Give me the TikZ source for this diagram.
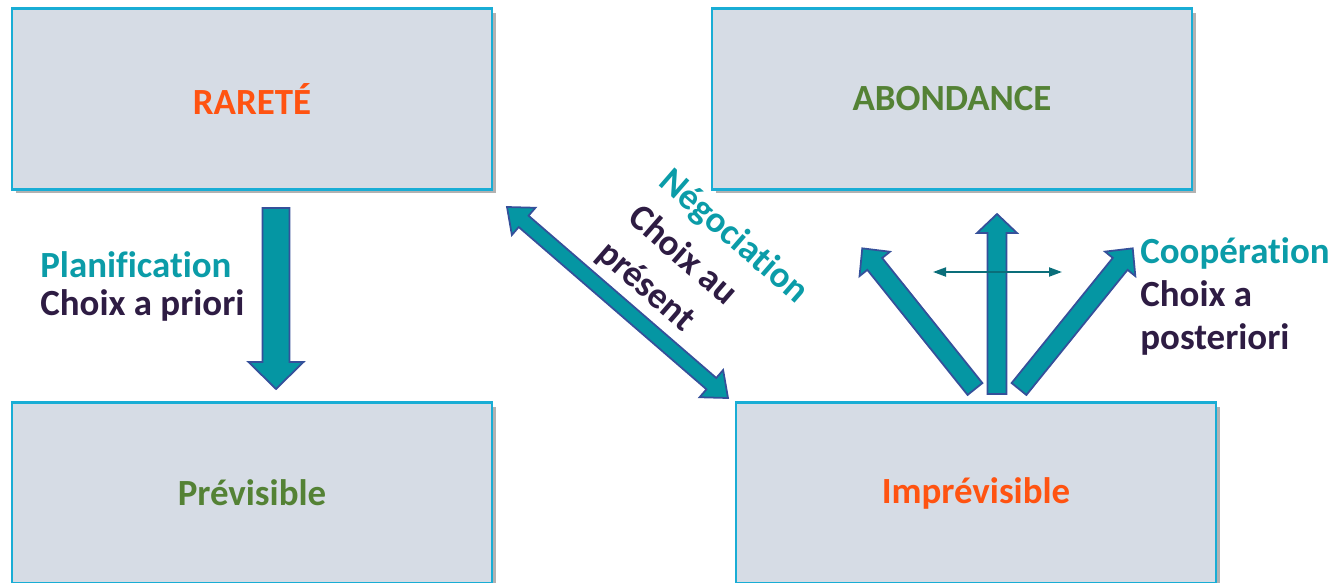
\documentclass[tikz,border=0pt]{standalone}
\usepackage{fontspec}
\setmainfont{Carlito}[Ligatures=NoCommon]
\usepackage{tikz}
\usetikzlibrary{calc,shadows,arrows.meta,positioning}

\definecolor{grisbleu}{HTML}{D6DCE5}
\definecolor{bordbleu}{HTML}{19ADD5}
\definecolor{rouille}{HTML}{FF5311}
\definecolor{vert}{HTML}{548235}
\definecolor{sarcelle}{HTML}{0B9CA8}
\definecolor{prune}{HTML}{2E1C43}
\definecolor{flechefond}{HTML}{0596A3}
\definecolor{flechebord}{HTML}{35509A}
\definecolor{fineteal}{HTML}{0A6E7A}

\tikzset{
  boite/.style={draw=bordbleu, line width=1.6pt, fill=grisbleu,
    minimum width=9.6cm, minimum height=3.62cm, inner sep=0pt,
    font=\fontsize{21}{25}\selectfont\bfseries,
    drop shadow={shadow xshift=0.08cm, shadow yshift=-0.08cm, fill=black, opacity=0.3}},
  fleche/.style={fill=flechefond, draw=flechebord, line width=1pt, line join=miter},
  etiq/.style={anchor=base west, inner sep=0pt, font=\fontsize{21}{25}\selectfont\bfseries},
}

% block arrow: from, to, half shaft, half head, head length
\newcommand{\flechebloc}[5]{%
  \draw[fleche] let \p1=($(#2)-(#1)$), \n1={atan2(\y1,\x1)}, \n2={veclen(\x1,\y1)} in
    [shift={(#1)}, rotate=\n1]
    (0pt,-#3) -- ({\n2-#5},-#3) -- ({\n2-#5},-#4) -- ({\n2},0pt)
    -- ({\n2-#5},#4) -- ({\n2-#5},#3) -- (0pt,#3) -- cycle;}

% double block arrow: same arguments
\newcommand{\flechedouble}[5]{%
  \draw[fleche] let \p1=($(#2)-(#1)$), \n1={atan2(\y1,\x1)}, \n2={veclen(\x1,\y1)} in
    [shift={(#1)}, rotate=\n1]
    (0pt,0pt) -- (#5,-#4) -- (#5,-#3) -- ({\n2-#5},-#3) -- ({\n2-#5},-#4) -- ({\n2},0pt)
    -- ({\n2-#5},#4) -- ({\n2-#5},#3) -- (#5,#3) -- (#5,#4) -- cycle;}

\begin{document}
\begin{tikzpicture}[x=0.02cm, y=-0.02cm]
\clip (0,0) rectangle (1336,582);

\node[boite, text=rouille] (rarete) at (252,99) {RARETÉ};
\node[boite, text=vert] (abondance) at (952,99) {ABONDANCE};
\node[boite, text=vert] (previsible) at (252,493) {Prévisible};
\node[boite, text=rouille] (imprevisible) at (976,493) {Imprévisible};

% arrow ends
\coordinate (planhaut) at (276,208);
\coordinate (planbas) at (276,389);
\coordinate (negohaut) at (507,207);
\coordinate (negobas) at (728,398);
\coordinate (eventg) at (975,389);
\coordinate (eventm) at (997,394);
\coordinate (eventd) at (1019,389);
\coordinate (pointeg) at (862,248);
\coordinate (pointem) at (997,214);
\coordinate (pointed) at (1133,248);
\coordinate (fineg) at (933,272);
\coordinate (fined) at (1062,272);

\flechebloc{planhaut}{planbas}{0.27cm}{0.55cm}{0.54cm}
\flechedouble{negohaut}{negobas}{0.15cm}{0.36cm}{0.44cm}
\flechebloc{eventg}{pointeg}{0.19cm}{0.39cm}{0.4cm}
\flechebloc{eventd}{pointed}{0.19cm}{0.39cm}{0.4cm}
\flechebloc{eventm}{pointem}{0.19cm}{0.4cm}{0.38cm}
\draw[fineteal, line width=1.1pt, {Triangle[length=0.26cm,width=0.18cm]}-{Triangle[length=0.26cm,width=0.18cm]}] (fineg) -- (fined);

\node[etiq, text=sarcelle] (planif) at (40,277) {Planification};
\node[etiq, text=prune] (choixa) at (40,315) {Choix a priori};
\node[etiq, text=sarcelle] (coop) at (1140,263) {Coopération};
\node[etiq, text=prune] (choixb) at (1140,306) {Choix a};
\node[etiq, text=prune] (poste) at (1140,349) {posteriori};

\node[etiq, text=sarcelle, rotate=-41] (nego) at (657,184) {Négociation};
\node[etiq, text=prune, rotate=-41] (choixc) at (626,220) {Choix au};
\node[etiq, text=prune, rotate=-41] (present) at (595,256) {présent};
\end{tikzpicture}
\end{document}
